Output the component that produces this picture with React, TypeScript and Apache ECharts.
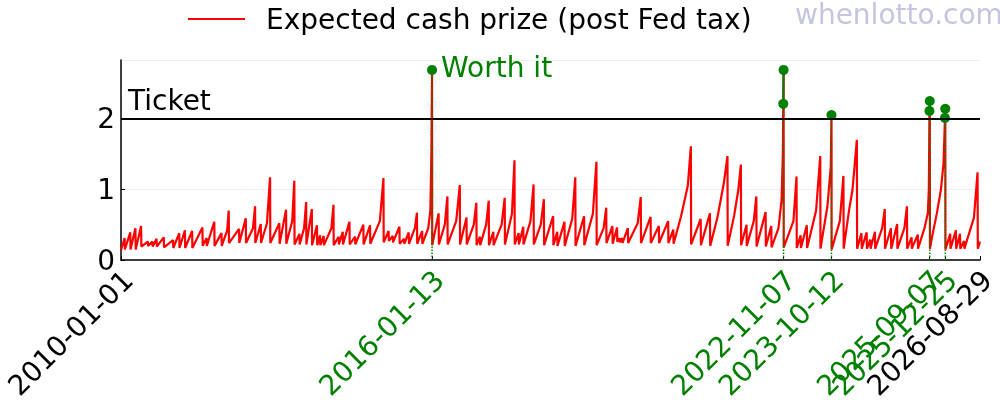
import { useEffect, useRef } from "react";
import * as echarts from "echarts";

const FONT = "DejaVu Sans";
const RED = "#ff0000";
const GREEN = "#008000";

const seriesName = "Expected cash prize (post Fed tax)";
const ticketPrice = 2;
const watermark = "whenlotto.com";

// x range of the plot
const startDate = "2010-01-01";
const endDate = "2026-08-29";

// labelled dates on the x axis; the worth-it ones are drawn green
const tickDates = ["2010-01-01", "2016-01-13", "2022-11-07", "2023-10-12", "2025-09-07", "2025-12-25", "2026-08-29"];
const worthItDates = ["2016-01-13", "2022-11-07", "2023-10-12", "2025-09-07", "2025-12-25"];

// [decimal year, expected cash prize per $ ticket], vertex by vertex
const prizePoints: [number, number][] = [
  [2010.0, 0.14], [2010.07, 0.31], [2010.075, 0.15], [2010.18, 0.39], [2010.185, 0.15],
  [2010.28, 0.45], [2010.285, 0.15], [2010.39, 0.48], [2010.395, 0.19], [2010.52, 0.26],
  [2010.525, 0.2], [2010.61, 0.26], [2010.615, 0.19], [2010.69, 0.3], [2010.695, 0.19],
  [2010.83, 0.32], [2010.835, 0.18],
  [2011.01, 0.28], [2011.015, 0.17], [2011.13, 0.38], [2011.135, 0.17], [2011.24, 0.42],
  [2011.245, 0.17], [2011.38, 0.41], [2011.385, 0.17], [2011.58, 0.46], [2011.585, 0.2],
  [2011.66, 0.31], [2011.665, 0.2], [2011.81, 0.54], [2011.815, 0.2], [2011.95, 0.38],
  [2011.955, 0.2],
  [2012.06, 0.42], [2012.09, 0.7], [2012.095, 0.24], [2012.29, 0.44], [2012.295, 0.24],
  [2012.42, 0.59], [2012.425, 0.24], [2012.56, 0.45], [2012.6, 0.76], [2012.605, 0.24],
  [2012.71, 0.51], [2012.715, 0.24], [2012.83, 0.52], [2012.89, 1.17], [2012.895, 0.24],
  [2013.07, 0.52], [2013.075, 0.23], [2013.2, 0.71], [2013.205, 0.23], [2013.32, 0.55],
  [2013.36, 1.12], [2013.365, 0.22], [2013.46, 0.37], [2013.465, 0.22], [2013.55, 0.45],
  [2013.59, 0.82], [2013.595, 0.22], [2013.7, 0.72], [2013.705, 0.21], [2013.8, 0.49],
  [2013.805, 0.21], [2013.86, 0.35], [2013.865, 0.21], [2013.93, 0.34], [2013.935, 0.21],
  [2014.08, 0.45], [2014.12, 0.78], [2014.125, 0.21], [2014.22, 0.33], [2014.225, 0.22],
  [2014.3, 0.4], [2014.305, 0.22], [2014.43, 0.54], [2014.435, 0.22], [2014.54, 0.33],
  [2014.545, 0.22], [2014.7, 0.5], [2014.705, 0.22], [2014.83, 0.49], [2014.835, 0.23],
  [2015.02, 0.55], [2015.09, 1.16], [2015.095, 0.25], [2015.19, 0.41], [2015.195, 0.27],
  [2015.27, 0.34], [2015.275, 0.25], [2015.4, 0.47], [2015.405, 0.23], [2015.49, 0.3],
  [2015.495, 0.23], [2015.58, 0.39], [2015.585, 0.23], [2015.7, 0.45], [2015.74, 0.67],
  [2015.745, 0.23], [2015.84, 0.41], [2015.845, 0.23], [2015.96, 0.45],
  [2016.0, 0.7], [2016.02, 1.5], [2016.033, 2.69], [2016.036, 0.21], [2016.16, 0.66],
  [2016.165, 0.22], [2016.28, 0.5], [2016.33, 0.9], [2016.335, 0.22], [2016.5, 0.55],
  [2016.57, 1.06], [2016.575, 0.22], [2016.7, 0.6], [2016.705, 0.22], [2016.84, 0.5],
  [2016.89, 0.81], [2016.895, 0.21], [2016.96, 0.33], [2016.965, 0.21],
  [2017.08, 0.5], [2017.13, 0.84], [2017.135, 0.21], [2017.22, 0.4], [2017.225, 0.21],
  [2017.38, 0.5], [2017.44, 0.88], [2017.445, 0.22], [2017.58, 0.65], [2017.63, 1.41],
  [2017.635, 0.22], [2017.71, 0.38], [2017.715, 0.22], [2017.8, 0.47], [2017.805, 0.22],
  [2017.94, 0.55],
  [2018.0, 1.07], [2018.005, 0.22], [2018.14, 0.5], [2018.2, 0.86], [2018.205, 0.21],
  [2018.38, 0.62], [2018.385, 0.21], [2018.46, 0.4], [2018.465, 0.2], [2018.6, 0.54],
  [2018.605, 0.2], [2018.75, 0.58], [2018.81, 1.17], [2018.815, 0.2], [2018.98, 0.62],
  [2018.985, 0.21],
  [2019.15, 0.65], [2019.22, 1.39], [2019.225, 0.21], [2019.36, 0.45], [2019.41, 0.74],
  [2019.415, 0.24], [2019.53, 0.48], [2019.535, 0.23], [2019.62, 0.46], [2019.625, 0.26],
  [2019.67, 0.31], [2019.675, 0.25], [2019.72, 0.31], [2019.725, 0.24], [2019.83, 0.45],
  [2019.835, 0.24],
  [2020.02, 0.52], [2020.08, 0.89], [2020.085, 0.24], [2020.27, 0.61], [2020.275, 0.24],
  [2020.43, 0.48], [2020.435, 0.24], [2020.61, 0.55], [2020.615, 0.24], [2020.71, 0.43],
  [2020.715, 0.23], [2020.86, 0.62], [2020.99, 1.05],
  [2021.05, 1.61], [2021.055, 0.22], [2021.24, 0.58], [2021.245, 0.21], [2021.42, 0.66],
  [2021.425, 0.2], [2021.565, 0.6], [2021.69, 1.09], [2021.76, 1.47], [2021.765, 0.2],
  [2021.89, 0.63], [2021.97, 0.99],
  [2022.02, 1.35], [2022.025, 0.21], [2022.13, 0.5], [2022.135, 0.2], [2022.27, 0.55],
  [2022.32, 0.9], [2022.325, 0.19], [2022.5, 0.68], [2022.505, 0.19], [2022.61, 0.48],
  [2022.615, 0.18], [2022.75, 0.45], [2022.81, 0.85], [2022.835, 1.5], [2022.843, 2.21],
  [2022.849, 2.69], [2022.852, 0.18],
  [2023.04, 0.55], [2023.1, 1.18], [2023.105, 0.17], [2023.18, 0.35], [2023.185, 0.17],
  [2023.3, 0.49], [2023.305, 0.17], [2023.48, 0.7], [2023.56, 1.47], [2023.565, 0.16],
  [2023.7, 0.76], [2023.765, 1.32], [2023.778, 2.05], [2023.781, 0.15], [2023.94, 0.55],
  [2024.01, 1.19], [2024.015, 0.16], [2024.12, 0.71], [2024.185, 0.99], [2024.27, 1.7],
  [2024.275, 0.16], [2024.36, 0.38], [2024.365, 0.16], [2024.46, 0.39], [2024.465, 0.16],
  [2024.53, 0.29], [2024.535, 0.16], [2024.62, 0.4], [2024.625, 0.16], [2024.76, 0.45],
  [2024.81, 0.72], [2024.815, 0.16], [2024.93, 0.45], [2024.935, 0.16],
  [2025.05, 0.51], [2025.055, 0.16], [2025.19, 0.45], [2025.24, 0.76], [2025.245, 0.16],
  [2025.33, 0.32], [2025.335, 0.16], [2025.45, 0.36], [2025.455, 0.16], [2025.58, 0.45],
  [2025.645, 0.66], [2025.665, 1.0], [2025.677, 2.11], [2025.683, 2.25], [2025.686, 0.16],
  [2025.72, 0.3], [2025.82, 0.66], [2025.9, 1.0], [2025.95, 1.37], [2025.978, 2.01],
  [2025.984, 2.14], [2025.987, 0.15],
  [2026.08, 0.37], [2026.085, 0.16], [2026.19, 0.42], [2026.195, 0.16], [2026.27, 0.37],
  [2026.275, 0.16], [2026.35, 0.27], [2026.355, 0.16], [2026.54, 0.6], [2026.61, 1.24],
  [2026.615, 0.16], [2026.658, 0.26],
];

const dayTime = (s: string) => Date.parse(s + "T00:00:00Z");

function yearTime(yr: number) {
  const y = Math.floor(yr);
  const a = Date.UTC(y, 0, 1);
  const b = Date.UTC(y + 1, 0, 1);
  return a + (yr - y) * (b - a);
}

export default function App() {
  const ref = useRef<HTMLDivElement>(null);

  useEffect(() => {
    if (!ref.current) return;
    const chart = echarts.init(ref.current, null, { renderer: "svg" });

    const prize = prizePoints.map(([yr, v]) => [yearTime(yr), v]);

    // runs of draws whose value beats the ticket price
    const episodes: number[][][] = [];
    let run: number[][] = [];
    prize.forEach((p) => {
      if (p[1] > ticketPrice) {
        run.push(p);
      } else if (run.length) {
        episodes.push(run);
        run = [];
      }
    });
    if (run.length) episodes.push(run);

    const worthSet = new Set(worthItDates);
    const textBase = { fontFamily: FONT, fontSize: 28 };

    // echarts hides one of two overlapping end labels, so the labels are
    // spread over three stacked axes that never hold neighbours
    const labelGroups = [
      [tickDates[0], tickDates[2], tickDates[4]],
      [tickDates[1], tickDates[3], tickDates[5]],
      [tickDates[6]],
    ];
    const xAxes = labelGroups.map((group, i) => ({
      type: "value",
      min: dayTime(startDate),
      max: dayTime(endDate),
      position: "bottom",
      axisLine: { show: i === 0, lineStyle: { color: "#000", width: 1.5 } },
      axisTick: {
        show: i === 0,
        inside: true,
        length: 4,
        customValues: tickDates.map(dayTime),
        lineStyle: { color: "#000" },
      },
      splitLine: { show: false },
      axisLabel: {
        customValues: group.map(dayTime),
        showMinLabel: true,
        showMaxLabel: true,
        hideOverlap: false,
        rotate: 45,
        margin: 0,
        verticalAlign: "top",
        padding: [0, 6, 0, 0],
        formatter: (v: number) => {
          const s = new Date(v).toISOString().slice(0, 10);
          return worthSet.has(s) ? `{g|${s}}` : `{k|${s}}`;
        },
        rich: {
          g: { ...textBase, color: GREEN, lineHeight: 32 },
          k: { ...textBase, color: "#000", lineHeight: 32 },
        },
      },
    }));

    const dotted = episodes.map((ep) => {
      const last = ep[ep.length - 1];
      const peak = Math.max(...ep.map((p) => p[1]));
      return {
        type: "line",
        data: [
          [last[0], 0],
          [last[0], peak],
        ],
        symbol: "none",
        silent: true,
        z: 3,
        lineStyle: { color: GREEN, width: 1.5, type: "dotted" },
      };
    });

    const greens = episodes.map((ep, i) => ({
      type: "line",
      data: ep.map((p, j) =>
        i === 0 && j === ep.length - 1
          ? {
              value: p,
              label: {
                show: true,
                position: "right",
                distance: 4,
                formatter: "Worth it",
                color: GREEN,
                offset: [0, -2],
                ...textBase,
              },
            }
          : { value: p }
      ),
      symbol: "circle",
      symbolSize: 10,
      showSymbol: true,
      silent: true,
      z: 4,
      itemStyle: { color: GREEN },
      lineStyle: { color: GREEN, width: 2 },
    }));

    chart.setOption({
      animation: false,
      textStyle: { fontFamily: FONT },
      grid: { left: 121, right: 20, top: 60, bottom: 140, outerBoundsMode: "none", containLabel: false },
      legend: {
        data: [seriesName],
        left: 188,
        top: 4,
        padding: 0,
        icon: "rect",
        itemWidth: 57,
        itemHeight: 2,
        textStyle: { ...textBase, color: "#000", padding: [0, 0, 0, 16], lineHeight: 30 },
      },
      graphic: [
        {
          type: "text",
          x: 795,
          y: 0,
          silent: true,
          style: {
            text: watermark,
            fill: "#c5c5e0",
            font: `28px "${FONT}"`,
            verticalAlign: "top",
          },
        },
      ],
      xAxis: xAxes,
      yAxis: {
        type: "value",
        min: 0,
        max: 2.83,
        interval: 1,
        axisLine: { show: true, lineStyle: { color: "#000", width: 1.5 } },
        axisTick: { show: true, inside: true, length: 4, lineStyle: { color: "#000" } },
        axisLabel: {
          ...textBase,
          color: "#000",
          margin: 6,
          showMaxLabel: false,
        },
        splitLine: { show: true, lineStyle: { color: "#eeeeee", width: 1 } },
      },
      series: [
        {
          name: seriesName,
          type: "line",
          data: prize,
          symbol: "none",
          showSymbol: false,
          z: 2,
          lineStyle: { color: RED, width: 2.2 },
          itemStyle: { color: RED },
          markLine: {
            silent: true,
            symbol: "none",
            lineStyle: { color: "#000", width: 2, type: "solid" },
            label: {
              show: true,
              position: "insideStartTop",
              formatter: "Ticket",
              color: "#000",
              distance: [7, 4],
              ...textBase,
            },
            data: [{ yAxis: ticketPrice }],
          },
        },
        ...dotted,
        ...greens,
      ],
    });

    return () => chart.dispose();
  }, []);

  return <div ref={ref} style={{ position: "fixed", left: 0, top: 0, width: 1000, height: 400 }} />;
}
